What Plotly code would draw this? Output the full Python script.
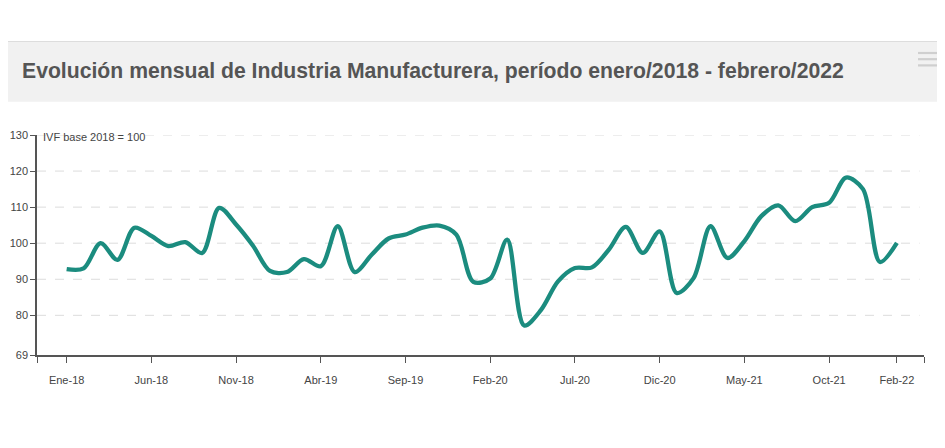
import plotly.graph_objects as go

# ---- data ----
month_labels = [
    "Ene-18","Feb-18","Mar-18","Abr-18","May-18","Jun-18","Jul-18","Ago-18","Sep-18","Oct-18","Nov-18","Dic-18",
    "Ene-19","Feb-19","Mar-19","Abr-19","May-19","Jun-19","Jul-19","Ago-19","Sep-19","Oct-19","Nov-19","Dic-19",
    "Ene-20","Feb-20","Mar-20","Abr-20","May-20","Jun-20","Jul-20","Ago-20","Sep-20","Oct-20","Nov-20","Dic-20",
    "Ene-21","Feb-21","Mar-21","Abr-21","May-21","Jun-21","Jul-21","Ago-21","Sep-21","Oct-21","Nov-21","Dic-21",
    "Ene-22","Feb-22",
]
ivf_values = [
    92.8, 93.0, 100.0, 95.4, 104.3, 102.0, 99.2, 100.3, 97.3, 109.8, 105.2, 99.3,
    92.3, 92.0, 95.6, 93.6, 104.7, 92.0, 96.8, 101.3, 102.4, 104.3, 104.9, 102.4,
    89.3, 90.2, 101.0, 77.2, 81.5, 89.4, 93.1, 93.3, 98.2, 104.5, 97.3, 103.3,
    86.2, 90.3, 104.7, 95.9, 100.6, 107.5, 110.5, 106.1, 110.0, 111.2, 118.2, 115.0,
    94.8, 100.1,
]
tick_months = ["Ene-18","Jun-18","Nov-18","Abr-19","Sep-19","Feb-20","Jul-20","Dic-20","May-21","Oct-21","Feb-22"]
y_ticks = [69, 80, 90, 100, 110, 120, 130]

title_text = "Evolución mensual de Industria Manufacturera, período enero/2018 - febrero/2022"
unit_note = "IVF base 2018 = 100"

# ---- figure geometry (page is offset by the 8px body margin) ----
OFF = 8
W, H = 945 - OFF, 448 - OFF
ML, MR, MT, MB = 37 - OFF, 21, 135 - OFF, 93
PW, PH = W - ML - MR, H - MT - MB
FONT = "Liberation Sans, Arial, sans-serif"

def px_x(px):  # page pixel -> paper x
    return (px - OFF - ML) / PW

def px_y(py):  # page pixel -> paper y
    return (H - MB - (py - OFF)) / PH

x_idx = list(range(len(ivf_values)))
x_min, x_max = -1.75, 50.6

tickvals = [x_min] + [month_labels.index(m) for m in tick_months] + [x_max]
ticktext = [""] + tick_months + [""]

fig = go.Figure()
fig.add_trace(go.Scatter(
    x=x_idx, y=ivf_values, mode="lines",
    line=dict(color="#1b8c7f", width=4.3, shape="spline", smoothing=0.9),
    hoverinfo="skip", showlegend=False,
))

# dashed gridlines
for v in y_ticks[1:]:
    fig.add_shape(type="line", xref="paper", yref="y", x0=0, x1=0.995, y0=v, y1=v,
                  line=dict(color="#dcdcdc", width=1, dash="dash"), layer="below")

shapes = [
    dict(type="rect", xref="paper", yref="paper", x0=px_x(0), x1=px_x(945), y0=px_y(101.7), y1=px_y(41.7),
         fillcolor="#f1f1f1", line=dict(width=0), layer="below"),
    dict(type="line", xref="paper", yref="paper", x0=px_x(0), x1=px_x(945), y0=px_y(41.5), y1=px_y(41.5),
         line=dict(color="#dddddd", width=1)),
]
for py in (53, 59.2, 65.4):
    shapes.append(dict(type="line", xref="paper", yref="paper", x0=px_x(918), x1=px_x(938),
                       y0=px_y(py), y1=px_y(py), line=dict(color="#cfcfcf", width=2.2)))
for s in shapes:
    fig.add_shape(**s)

fig.add_annotation(text=unit_note, xref="paper", yref="paper", x=px_x(41), y=px_y(137),
                   xanchor="left", yanchor="middle", showarrow=False,
                   font=dict(family=FONT, size=11, color="#444"))

fig.update_layout(
    width=W, height=H,
    margin=dict(l=ML, r=MR, t=MT, b=MB, pad=0, autoexpand=False),
    paper_bgcolor="white", plot_bgcolor="white",
    title=dict(text=title_text, xref="container", yref="container",
               x=(22 - OFF) / W, y=1 - (71 - OFF) / H,
               xanchor="left", yanchor="middle",
               font=dict(family=FONT, size=21.2, color="#555555", weight="bold")),
    xaxis=dict(range=[x_min, x_max], tickmode="array", tickvals=tickvals, ticktext=ticktext,
               automargin=False,
               showgrid=False, zeroline=False, showline=True, linecolor="#555", linewidth=1.5,
               ticks="outside", ticklen=6, tickcolor="#555", tickwidth=1.2,
               tickfont=dict(family=FONT, size=11, color="#444"),
               ticklabelstandoff=8),
    yaxis=dict(range=[69, 130], tickmode="array", tickvals=y_ticks,
               automargin=False,
               showgrid=False, zeroline=False, showline=True, linecolor="#555", linewidth=1.5,
               ticks="outside", ticklen=5, tickcolor="#555", tickwidth=1.2,
               tickfont=dict(family=FONT, size=11, color="#444")),
)

fig.write_html("out.html")
